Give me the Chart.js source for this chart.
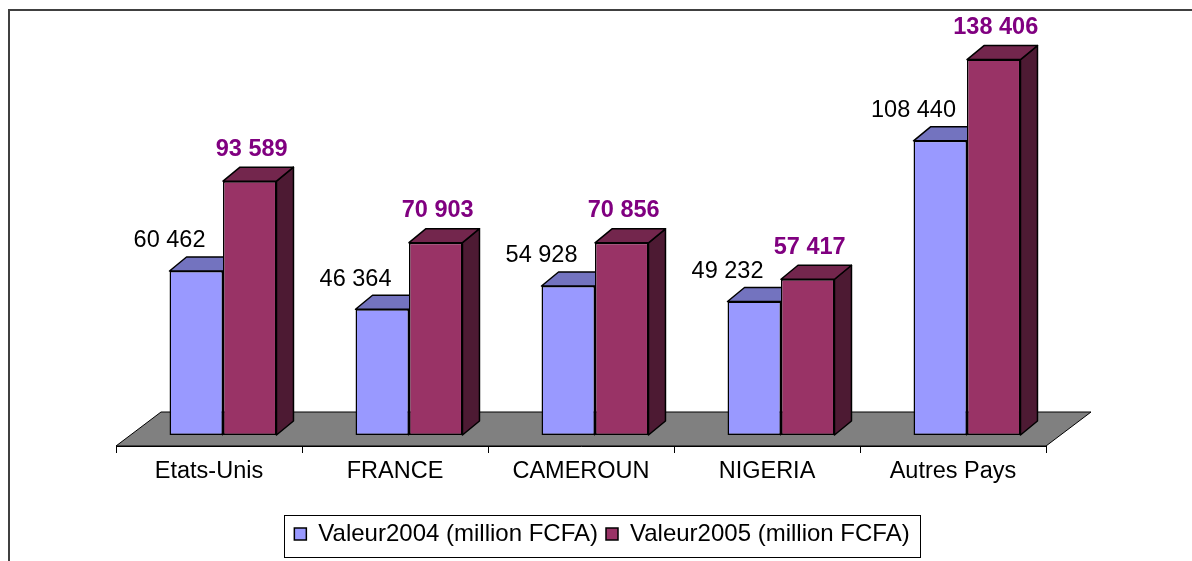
<!DOCTYPE html>
<html>
<head>
<meta charset="utf-8">
<script src="https://cdn.jsdelivr.net/npm/chart.js@4/dist/chart.umd.min.js"></script>
<style>
  html, body { margin: 0; padding: 0; background: #fff; }
</style>
</head>
<body>
<canvas id="myChart" width="1192" height="561"></canvas>
<script>
const categories = ['Etats-Unis', 'FRANCE', 'CAMEROUN', 'NIGERIA', 'Autres Pays'];
const valeur2004 = [60462, 46364, 54928, 49232, 108440];
const valeur2005 = [93589, 70903, 70856, 57417, 138406];
const seriesNames = ['Valeur2004 (million FCFA)', 'Valeur2005 (million FCFA)'];
const valueMax = 160000;

const FONT = "'Liberation Sans', Arial, sans-serif";
const BAR_SHIFT = { x: 14, y: -11 }; // bars stand a little back on the floor
const DEPTH = { x: 17, y: -14 };     // depth of each bar
const FLOOR = { x: 45, y: -34 };     // depth of the grey floor

// top and side colours of the fake 3d bars
const faces = [
  { top: '#7373bf', side: '#4d4d80' },
  { top: '#73264d', side: '#4d1a33' }
];

function fmt(v) {
  return String(v).replace(/\B(?=(\d{3})+(?!\d))/g, ' ');
}

const fake3d = {
  id: 'fake3d',
  beforeDraw(chart) {
    const ctx = chart.ctx;
    ctx.save();
    ctx.fillStyle = '#fff';
    ctx.fillRect(0, 0, chart.width, chart.height);
    // frame (only top and left are inside the picture)
    ctx.fillStyle = '#404040';
    ctx.fillRect(8, 9, chart.width - 8, 2);
    ctx.fillRect(8, 9, 2, chart.height - 9);
    ctx.restore();
  },
  beforeDatasetsDraw(chart) {
    const { ctx, chartArea: a } = chart;
    ctx.save();
    ctx.beginPath();
    ctx.moveTo(a.left, a.bottom);
    ctx.lineTo(a.right, a.bottom);
    ctx.lineTo(a.right + FLOOR.x, a.bottom + FLOOR.y);
    ctx.lineTo(a.left + FLOOR.x, a.bottom + FLOOR.y);
    ctx.closePath();
    ctx.fillStyle = '#808080';
    ctx.fill();
    ctx.strokeStyle = '#000';
    ctx.lineWidth = 1;
    ctx.stroke();
    // restored in afterDatasetsDraw
    ctx.translate(BAR_SHIFT.x, BAR_SHIFT.y);
  },
  afterDatasetDraw(chart, args) {
    const ctx = chart.ctx;
    const f = faces[args.index];
    args.meta.data.forEach(bar => {
      const { x, y, base, width } = bar.getProps(['x', 'y', 'base', 'width'], true);
      const L = x - width / 2, R = x + width / 2;
      ctx.save();
      ctx.strokeStyle = '#000';
      ctx.lineWidth = 1.5;
      ctx.lineJoin = 'round';
      if (args.index === 0) {
        // the taller 2005 bar hides whatever lies right of the 2004 bar
        ctx.beginPath();
        ctx.rect(-200, -200, R + 200, chart.height + 400);
        ctx.clip();
      }
      // side
      ctx.beginPath();
      ctx.moveTo(R, y);
      ctx.lineTo(R + DEPTH.x, y + DEPTH.y);
      ctx.lineTo(R + DEPTH.x, base + DEPTH.y);
      ctx.lineTo(R, base);
      ctx.closePath();
      ctx.fillStyle = f.side;
      ctx.fill();
      ctx.stroke();
      // top
      ctx.beginPath();
      ctx.moveTo(L, y);
      ctx.lineTo(R, y);
      ctx.lineTo(R + DEPTH.x, y + DEPTH.y);
      ctx.lineTo(L + DEPTH.x, y + DEPTH.y);
      ctx.closePath();
      ctx.fillStyle = f.top;
      ctx.fill();
      ctx.stroke();
      ctx.restore();
    });
  },
  afterDatasetsDraw(chart) {
    const ctx = chart.ctx;
    ctx.restore();
    const m0 = chart.getDatasetMeta(0), m1 = chart.getDatasetMeta(1);
    ctx.save();
    ctx.textAlign = 'center';
    ctx.textBaseline = 'middle';
    categories.forEach((c, i) => {
      const b0 = m0.data[i], b1 = m1.data[i];
      ctx.font = '23.5px ' + FONT;
      ctx.fillStyle = '#000';
      ctx.fillText(fmt(valeur2004[i]), b0.x - b0.width / 2 + BAR_SHIFT.x, b0.y + BAR_SHIFT.y - 30);
      ctx.font = 'bold 23.5px ' + FONT;
      ctx.fillStyle = '#800080';
      ctx.fillText(fmt(valeur2005[i]), b1.x + 2 + BAR_SHIFT.x, b1.y + BAR_SHIFT.y - 32);
    });
    ctx.restore();
  },
  afterDraw(chart) {
    // box round the legend
    const hb = chart.legend.legendHitBoxes;
    if (!hb || !hb.length) return;
    const first = hb[0], last = hb[hb.length - 1];
    const ctx = chart.ctx;
    ctx.save();
    ctx.strokeStyle = '#000';
    ctx.lineWidth = 1;
    const left = Math.round(first.left - 10) + 0.5;
    const right = Math.round(last.left + last.width + 10) + 0.5;
    const top = Math.round(first.top - 7) + 0.5;
    const bottom = Math.round(first.top + first.height + 11) + 0.5;
    ctx.strokeRect(left, top, right - left, bottom - top);
    ctx.restore();
  }
};

function createChart() {
  const ctx = document.getElementById('myChart').getContext('2d');
  return new Chart(ctx, {
    type: 'bar',
    data: {
      labels: categories,
      datasets: [
        {
          label: seriesNames[0],
          data: valeur2004,
          backgroundColor: '#9999ff',
          borderColor: '#000',
          borderWidth: 1.5,
          borderSkipped: false,
          clip: false
        },
        {
          label: seriesNames[1],
          data: valeur2005,
          backgroundColor: '#993366',
          borderColor: '#000',
          borderWidth: 1.5,
          borderSkipped: false,
          clip: false
        }
      ]
    },
    options: {
      responsive: false,
      animation: false,
      devicePixelRatio: 1,
      categoryPercentage: 0.575,
      barPercentage: 1,
      layout: { padding: { left: 20, right: 8, top: 12, bottom: 5 } },
      scales: {
        x: {
          grid: { display: true, drawOnChartArea: false, color: '#000', tickLength: 7, offset: true },
          border: { display: true, color: '#000' },
          ticks: { color: '#000', font: { family: FONT, size: 23.5 }, padding: 4 },
          afterFit(s) { s.height = 68; }
        },
        y: {
          min: 0,
          max: valueMax,
          ticks: { display: false },
          grid: { display: false },
          border: { display: false },
          afterFit(s) { s.width = 96; }
        },
        y2: {
          position: 'right',
          ticks: { display: false },
          grid: { display: false },
          border: { display: false },
          afterFit(s) { s.width = 138; }
        }
      },
      plugins: {
        tooltip: { enabled: false },
        legend: {
          position: 'bottom',
          labels: {
            color: '#000',
            font: { family: FONT, size: 24 },
            boxWidth: 12,
            boxHeight: 12,
            padding: 8
          }
        }
      }
    },
    plugins: [fake3d]
  });
}

createChart();
</script>
</body>
</html>
